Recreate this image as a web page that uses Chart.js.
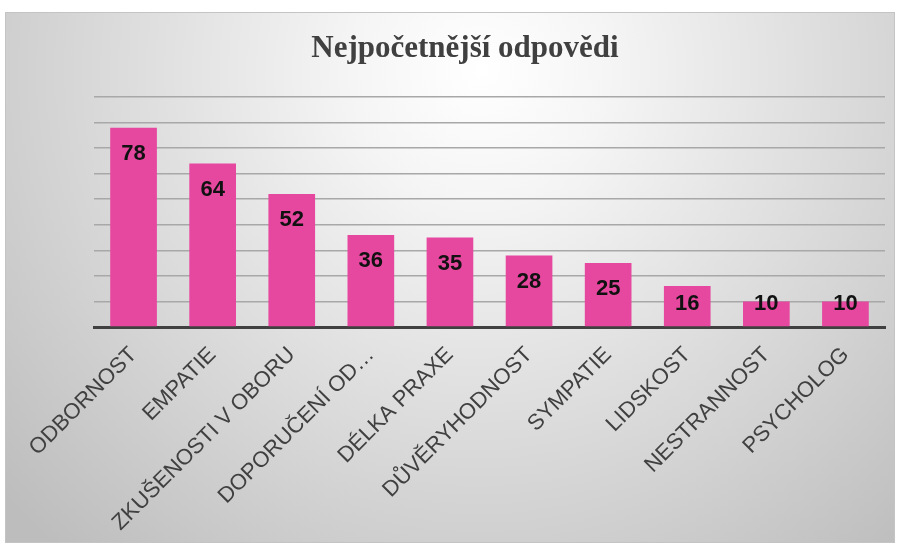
<!DOCTYPE html>
<html>
<head>
<meta charset="utf-8">
<script src="https://cdn.jsdelivr.net/npm/chart.js@4.4.0/dist/chart.umd.min.js"></script>
<style>
  html, body { margin: 0; padding: 0; background: #fff; }
  #wrap { width: 899px; height: 548px; }
</style>
</head>
<body>
<div id="wrap"><canvas id="myChart" width="899" height="548"></canvas></div>
<script>
// data
var categories = ["ODBORNOST", "EMPATIE", "ZKUŠENOSTI V OBORU", "DOPORUČENÍ OD…", "DÉLKA PRAXE",
                  "DŮVĚRYHODNOST", "SYMPATIE", "LIDSKOST", "NESTRANNOST", "PSYCHOLOG"];
var counts = [78, 64, 52, 36, 35, 28, 25, 16, 10, 10];
var yMax = 90;
var yStep = 10;
var chartTitle = "Nejpočetnější odpovědi";

// grey radial backdrop + frame + title (title sits left of plot centre, like the original)
var backdrop = {
    id: 'backdrop',
    beforeDraw: function(c) {
        var ctx = c.ctx;
        ctx.save();
        ctx.fillStyle = '#ffffff';
        ctx.fillRect(0, 0, c.width, c.height);
        var g = ctx.createRadialGradient(480, 70, 0, 480, 70, 640);
        g.addColorStop(0, '#ffffff');
        g.addColorStop(0.2, '#f5f5f5');
        g.addColorStop(1, '#bdbdbd');
        ctx.fillStyle = g;
        ctx.fillRect(5, 12, 890, 531);
        ctx.strokeStyle = '#c4c4c4';
        ctx.lineWidth = 1;
        ctx.strokeRect(5.5, 12.5, 889, 530);

        ctx.font = 'bold 31px "Liberation Serif", "Times New Roman", serif';
        ctx.fillStyle = '#404040';
        ctx.textAlign = 'center';
        ctx.textBaseline = 'alphabetic';
        ctx.fillText(chartTitle, 465, 57);
        ctx.restore();
    }
};

// numbers inside the top of each bar
var valueLabels = {
    id: 'valueLabels',
    afterDatasetsDraw: function(c) {
        var ctx = c.ctx;
        var meta = c.getDatasetMeta(0);
        ctx.save();
        ctx.font = 'bold 22px "Liberation Sans", Arial, sans-serif';
        ctx.fillStyle = '#111111';
        ctx.textAlign = 'center';
        ctx.textBaseline = 'middle';
        meta.data.forEach(function(bar, i) {
            var y = Math.min(bar.y + 26, bar.base - 22);
            ctx.fillText(String(counts[i]), bar.x, y);
        });
        ctx.restore();
    }
};

var ctx = document.getElementById('myChart').getContext('2d');
var chart = new Chart(ctx, {
    type: 'bar',
    data: {
        labels: categories,
        datasets: [{
            label: chartTitle,
            data: counts,
            backgroundColor: '#e6479f',
            borderWidth: 0,
            categoryPercentage: 1,
            barPercentage: 0.59
        }]
    },
    options: {
        responsive: false,
        animation: false,
        layout: { padding: { left: 94, right: 14, top: 97, bottom: 0 } },
        plugins: {
            legend: { display: false },
            tooltip: { enabled: false },
            title: { display: false }
        },
        scales: {
            x: {
                z: 1,
                grid: { display: false, drawTicks: false },
                border: { display: true, color: '#404040', width: 3 },
                ticks: {
                    autoSkip: false,
                    maxRotation: 45,
                    minRotation: 45,
                    padding: 15,
                    color: '#404040',
                    font: { family: '"Liberation Sans", Arial, sans-serif', size: 22 }
                },
                afterFit: function(scale) { scale.height = 221; }
            },
            y: {
                min: 0,
                max: yMax,
                ticks: { display: false, stepSize: yStep },
                grid: { color: '#a8a8a8', lineWidth: 1.5, drawTicks: false },
                border: { display: false }
            }
        }
    },
    plugins: [backdrop, valueLabels]
});
</script>
</body>
</html>
